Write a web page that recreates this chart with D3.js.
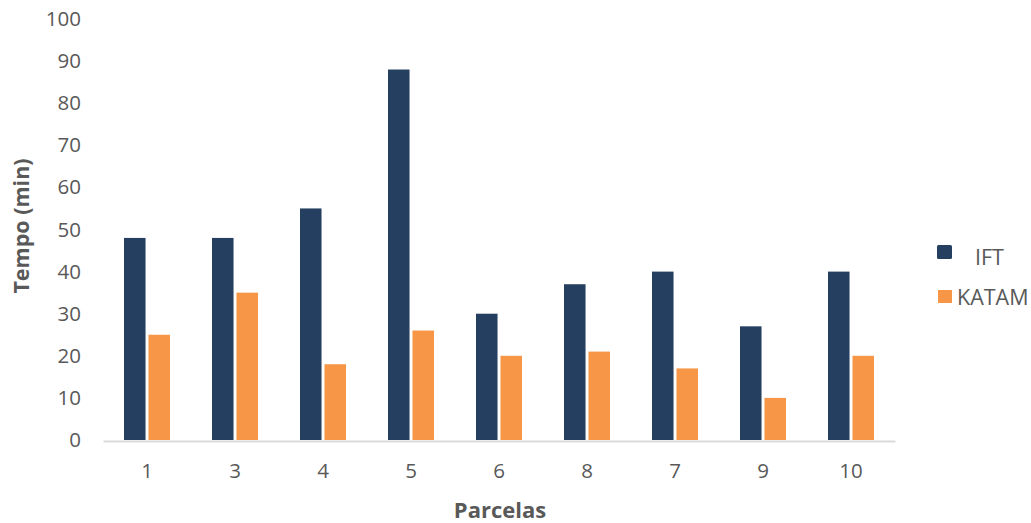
<!DOCTYPE html>
<html><head><meta charset="utf-8">
<script src="https://cdn.jsdelivr.net/npm/d3@7"></script>
<style>body{margin:0;background:#fff;} svg{display:block;}</style>
</head><body>
<script>
const categories = ["1","3","4","5","6","8","7","9","10"];
const ift = [48, 48, 55, 88, 30, 37, 40, 27, 40];
const katam = [25, 35, 18, 26, 20, 21, 17, 10, 20];
const yTicks = [0,10,20,30,40,50,60,70,80,90,100];
const seriesNames = ["IFT","KATAM"];
const colors = ["#253f60","#f79646"];

const W=1031,H=523;
const svg=d3.select("body").append("svg").attr("width",W).attr("height",H);
const font="'Open Sans', sans-serif";
const x=d3.scaleBand().domain(categories).range([103,895]).paddingInner(0).paddingOuter(0);
const y=d3.scaleLinear().domain([0,100]).range([440,19]);
const xs=d3.scaleBand().domain(seriesNames).range([0,46]).paddingInner(0.12);

// y axis labels
const ya=svg.append("g").attr("transform","translate(81,0)")
 .call(d3.axisLeft(y).tickValues(yTicks).tickSize(0).tickPadding(0));
ya.select(".domain").remove();
ya.selectAll("text").attr("font-family",font).attr("font-size",20.5).attr("fill","#595959");

// bars
const data=categories.map((c,i)=>({c,vals:[ift[i],katam[i]]}));
const g=svg.append("g");
data.forEach(d=>{
  d.vals.forEach((v,j)=>{
    g.append("rect")
     .attr("x",x(d.c)+x.bandwidth()/2-23+xs(seriesNames[j]))
     .attr("y",y(v)).attr("width",xs.bandwidth()).attr("height",y(0)-y(v))
     .attr("fill",colors[j]);
  });
});

// x axis
const xa=svg.append("g").attr("transform","translate(0,441)")
 .call(d3.axisBottom(x).tickSize(0).tickPadding(22));
xa.select(".domain").attr("stroke","#d9d9d9").attr("stroke-width",2);
xa.selectAll("text").attr("font-family",font).attr("font-size",20.5).attr("fill","#595959");

// titles
svg.append("text").attr("x",500).attr("y",518).attr("text-anchor","middle")
 .attr("font-family",font).attr("font-weight","bold").attr("font-size",22).attr("fill","#595959").text("Parcelas");
svg.append("text").attr("transform","translate(29,226) rotate(-90)").attr("text-anchor","middle")
 .attr("font-family",font).attr("font-weight","bold").attr("font-size",21.5).attr("fill","#595959").text("Tempo (min)");

// legend
svg.append("rect").attr("x",937).attr("y",245).attr("width",15).attr("height",14).attr("rx",1.5).attr("fill",colors[0]);
svg.append("text").attr("x",975).attr("y",265).attr("font-family",font).attr("font-size",21.5).attr("fill","#595959").text(seriesNames[0]);
svg.append("rect").attr("x",938).attr("y",290).attr("width",14).attr("height",13).attr("fill",colors[1]);
svg.append("text").attr("x",957).attr("y",305).attr("font-family",font).attr("font-size",21.5).attr("fill","#595959").text(seriesNames[1]);
</script>
</body></html>
